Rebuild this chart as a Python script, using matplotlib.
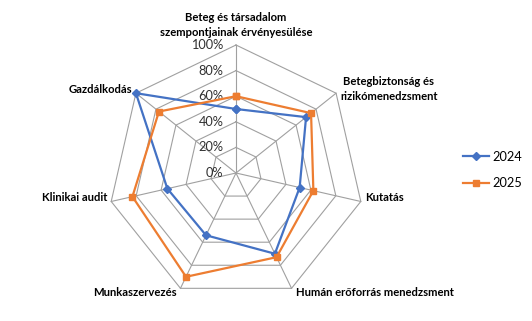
import numpy as np
import matplotlib.pyplot as plt

# ── Data ──────────────────────────────────────
categories = [
    "Beteg és társadalom\nszempontjainak érvényesülése",
    "Betegbiztonság és\nrizikómenedzsment",
    "Kutatás",
    "Humán erőforrás menedzsment",
    "Munkaszervezés",
    "Klinikai audit",
    "Gazdálkodás",
]
values_2024 = [0.50, 0.70, 0.51, 0.70, 0.54, 0.55, 1.00]
values_2025 = [0.60, 0.75, 0.62, 0.73, 0.90, 0.83, 0.77]
r_ticks = [0.0, 0.2, 0.4, 0.6, 0.8, 1.0]
r_tick_labels = ["0%", "20%", "40%", "60%", "80%", "100%"]

BLUE = '#4472C4'
ORANGE = '#ED7D31'
GRID = '#A0A0A0'
FONT = ['Lato', 'DejaVu Sans']

W, H, DPI = 532, 321, 100
CX, CY, R = 236, 173, 128  # pixel centre and radius of the 100% ring

fig = plt.figure(figsize=(W / DPI, H / DPI), dpi=DPI)
ax = fig.add_axes([0, 0, 1, 1])
ax.set_xlim(-CX / R, (W - CX) / R)
ax.set_ylim(-(H - CY) / R, CY / R)
ax.axis('off')

n = len(categories)
theta = np.arange(n) * 2 * np.pi / n
sx, sy = np.sin(theta), np.cos(theta)


def to_xy(vals):
    v = np.asarray(vals, dtype=float)
    x = v * sx
    y = v * sy
    return np.append(x, x[0]), np.append(y, y[0])


# ── Grid (polygon rings + spokes) ─────────────
for r in r_ticks[1:]:
    gx, gy = to_xy([r] * n)
    ax.plot(gx, gy, color=GRID, lw=0.8, zorder=1)
for i in range(n):
    ax.plot([0, sx[i]], [0, sy[i]], color=GRID, lw=0.8, zorder=1)

# ── Radial tick labels ────────────────────────
for r, lab in zip(r_ticks, r_tick_labels):
    ax.annotate(lab, (0, r), xytext=(-9, 0), textcoords='offset points',
                ha='right', va='center', fontsize=9.2, color='#303030',
                family=FONT)

# ── Series ────────────────────────────────────
x24, y24 = to_xy(values_2024)
x25, y25 = to_xy(values_2025)
ax.plot(x24, y24, color=BLUE, lw=1.6, marker='D', ms=4, zorder=3, label='2024')
ax.plot(x25, y25, color=ORANGE, lw=1.6, marker='s', ms=5, zorder=3, label='2025')

# ── Category labels ───────────────────────────
for i, lab in enumerate(categories):
    if i == 0:
        ax.annotate(lab, (0, 1), xytext=(0, 5), textcoords='offset points',
                    ha='center', va='bottom', fontsize=8.1, weight='bold',
                    multialignment='center', linespacing=1.45, family=FONT)
        continue
    side = 'left' if sx[i] > 0 else 'right'
    dx = 3 if sx[i] > 0 else -3
    ax.annotate(lab, (sx[i], sy[i]), xytext=(dx, 3 if sy[i] > -0.5 else -3),
                textcoords='offset points', ha=side, va='center',
                fontsize=8.1, weight='bold', multialignment='center',
                linespacing=1.45, family=FONT)

# ── Legend ────────────────────────────────────
leg = ax.legend(loc='center left', bbox_to_anchor=(457 / W, 1 - 170 / H),
                bbox_transform=fig.transFigure, frameon=False, fontsize=9.2,
                handlelength=2.0, labelspacing=1.1, handletextpad=0.25,
                borderpad=0)
for t in leg.get_texts():
    t.set_family(FONT)

fig.savefig('out.png', dpi=DPI)
